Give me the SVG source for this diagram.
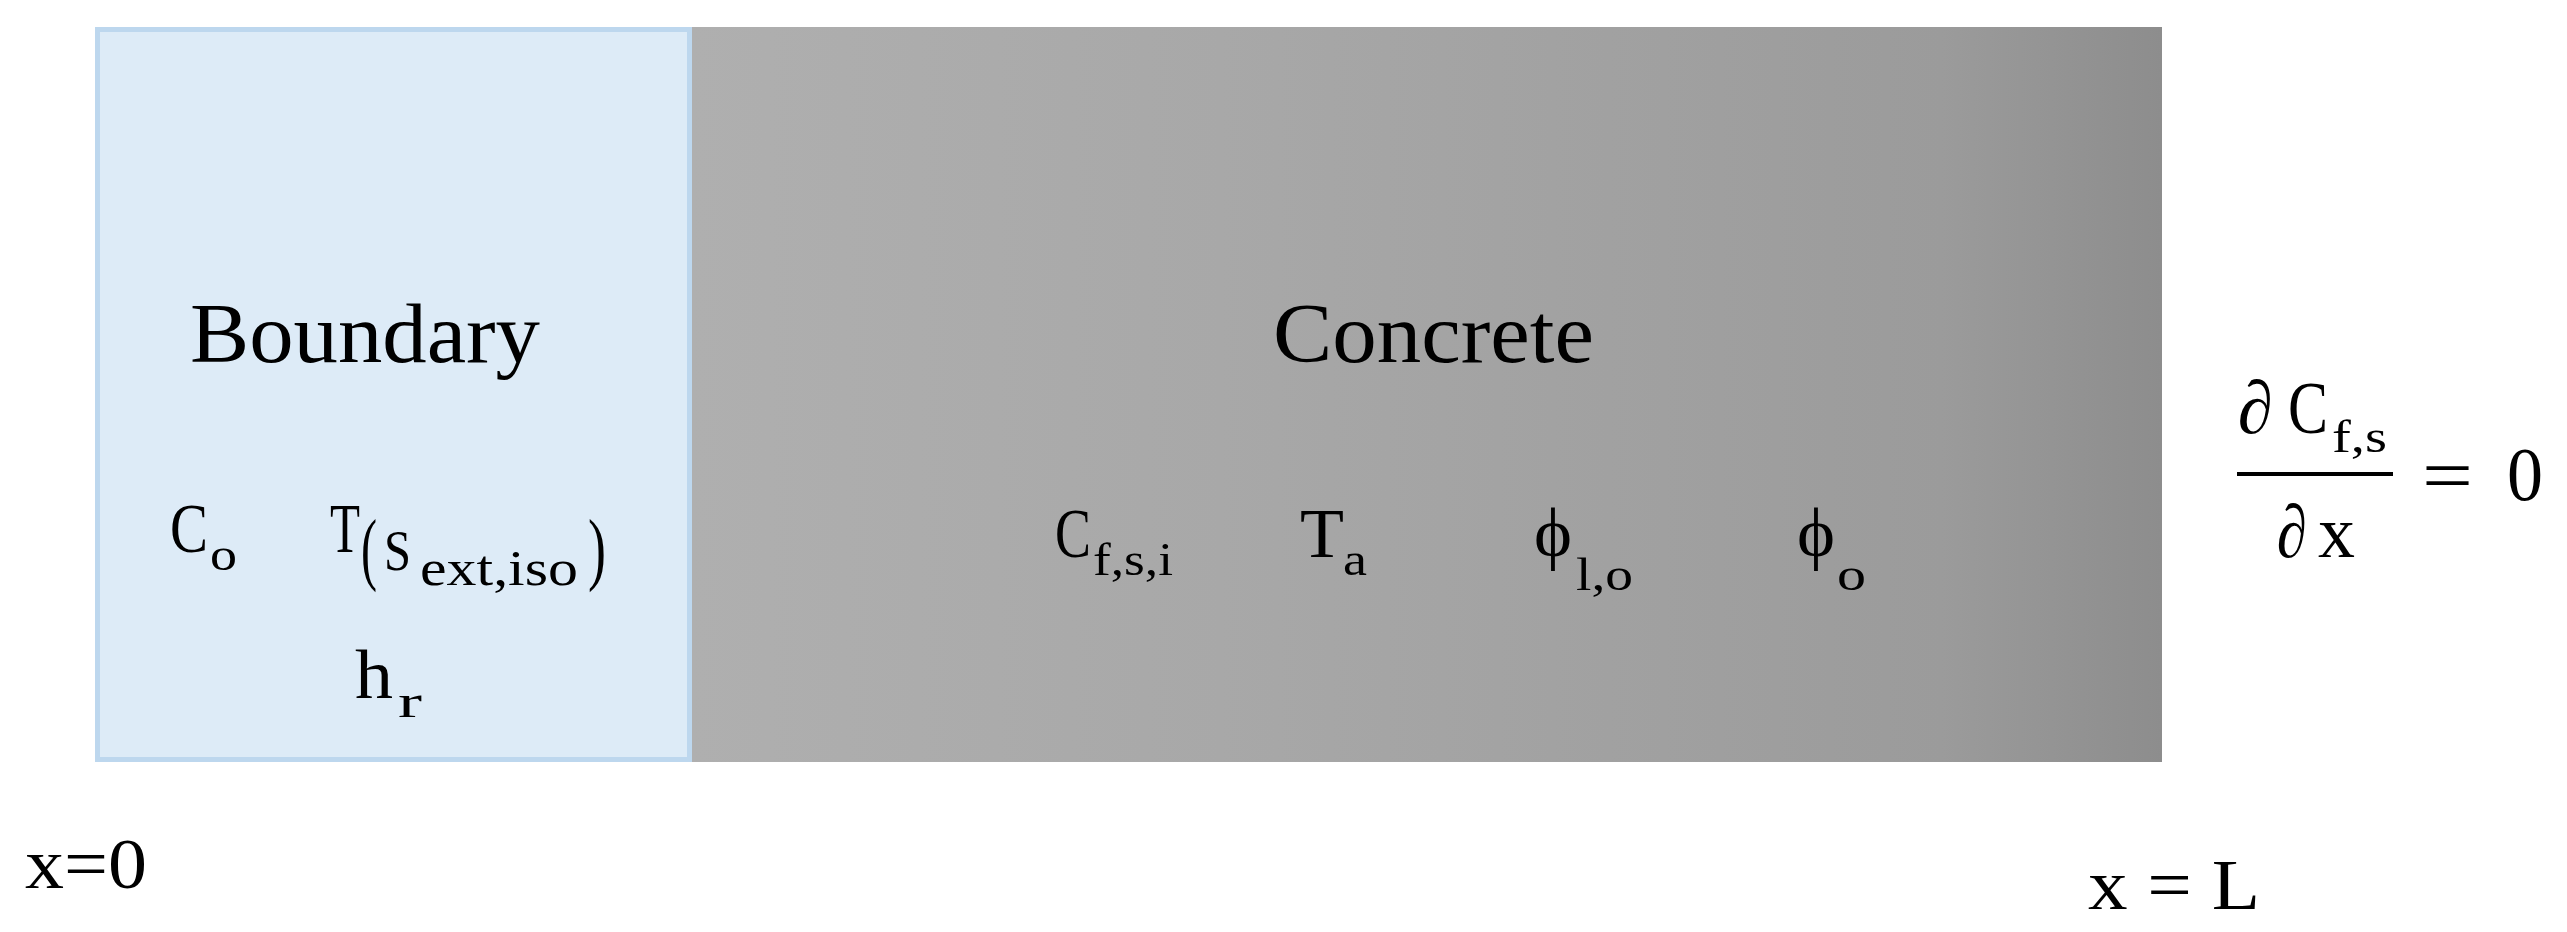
<svg xmlns="http://www.w3.org/2000/svg" width="2567" height="932" viewBox="0 0 2567 932">
<style>
  text { font-family: "Liberation Serif", "DejaVu Serif", serif; fill: #000; }
  .lbl { font-size: 84px; }
  .main { font-size: 70px; }
  .sub { font-size: 46px; }
  .big { font-size: 75px; }
</style>
<defs>
  <linearGradient id="concreteGrad" x1="0" y1="0" x2="1" y2="0">
    <stop offset="0" stop-color="#AFAFAF"/>
    <stop offset="0.36" stop-color="#A8A8A8"/>
    <stop offset="0.85" stop-color="#9B9B9B"/>
    <stop offset="1" stop-color="#8D8D8D"/>
  </linearGradient>
</defs>
<rect width="2567" height="932" fill="#FFFFFF"/>
<g id="concrete">
  <rect x="692" y="27" width="1470" height="735" fill="url(#concreteGrad)"/>
  <text class="lbl" x="1273" y="362" textLength="321" lengthAdjust="spacingAndGlyphs">Concrete</text>
  <text class="main" x="1055" y="557" textLength="36" lengthAdjust="spacingAndGlyphs">C</text>
  <text class="sub" x="1093" y="575" textLength="80" lengthAdjust="spacingAndGlyphs">f,s,i</text>
  <text class="main" x="1300" y="557" textLength="44" lengthAdjust="spacingAndGlyphs">T</text>
  <text class="sub" x="1343" y="575" textLength="24" lengthAdjust="spacingAndGlyphs">a</text>
  <text class="main" x="1534" y="556" textLength="38" lengthAdjust="spacingAndGlyphs">ϕ</text>
  <text class="sub" x="1576" y="590" textLength="57" lengthAdjust="spacingAndGlyphs">l,o</text>
  <text class="main" x="1797" y="556" textLength="38" lengthAdjust="spacingAndGlyphs">ϕ</text>
  <text class="sub" x="1837" y="590" textLength="29" lengthAdjust="spacingAndGlyphs">o</text>
</g>
<g id="boundary">
  <rect x="97.5" y="29.5" width="592" height="730" fill="#DDEBF7" stroke="#BDD7EE" stroke-width="5"/>
  <text class="lbl" x="190" y="362" textLength="350" lengthAdjust="spacingAndGlyphs">Boundary</text>
  <text class="main" x="170" y="552" textLength="38" lengthAdjust="spacingAndGlyphs">C</text>
  <text class="sub" x="210" y="570" textLength="27" lengthAdjust="spacingAndGlyphs">o</text>
  <text class="main" x="330" y="552" textLength="30" lengthAdjust="spacingAndGlyphs">T</text>
  <text style="font-size:80px" x="361" y="575" textLength="16" lengthAdjust="spacingAndGlyphs">(</text>
  <text style="font-size:56px" x="384" y="570" textLength="27" lengthAdjust="spacingAndGlyphs">S</text>
  <text style="font-size:50px" x="420" y="585" textLength="158" lengthAdjust="spacingAndGlyphs">ext,iso</text>
  <text style="font-size:80px" x="588" y="575" textLength="18" lengthAdjust="spacingAndGlyphs">)</text>
  <text class="main" x="355" y="698" textLength="38" lengthAdjust="spacingAndGlyphs">h</text>
  <text class="sub" x="398" y="717" textLength="24" lengthAdjust="spacingAndGlyphs">r</text>
</g>
<g id="condition-right">
  <text class="big" x="2238" y="433" textLength="35" lengthAdjust="spacingAndGlyphs">∂</text>
  <text class="big" x="2288" y="433" textLength="40" lengthAdjust="spacingAndGlyphs">C</text>
  <text style="font-size:46px" x="2332" y="452" textLength="55" lengthAdjust="spacingAndGlyphs">f,s</text>
  <line x1="2237" y1="474" x2="2393" y2="474" stroke="#000" stroke-width="4"/>
  <text class="big" x="2277" y="557" textLength="30" lengthAdjust="spacingAndGlyphs">∂</text>
  <text class="big" x="2318" y="557" textLength="37" lengthAdjust="spacingAndGlyphs">x</text>
  <text class="big" x="2422" y="500" textLength="51" lengthAdjust="spacingAndGlyphs">=</text>
  <text style="font-size:77px" x="2507" y="500" textLength="36" lengthAdjust="spacingAndGlyphs">0</text>
</g>
<g id="x0-label">
  <text style="font-size:72px" x="25" y="888" textLength="122" lengthAdjust="spacingAndGlyphs">x=0</text>
</g>
<g id="xL-label">
  <text style="font-size:72px" x="2088" y="909" textLength="172" lengthAdjust="spacingAndGlyphs">x = L</text>
</g>
<g id="connectors"></g>
</svg>
